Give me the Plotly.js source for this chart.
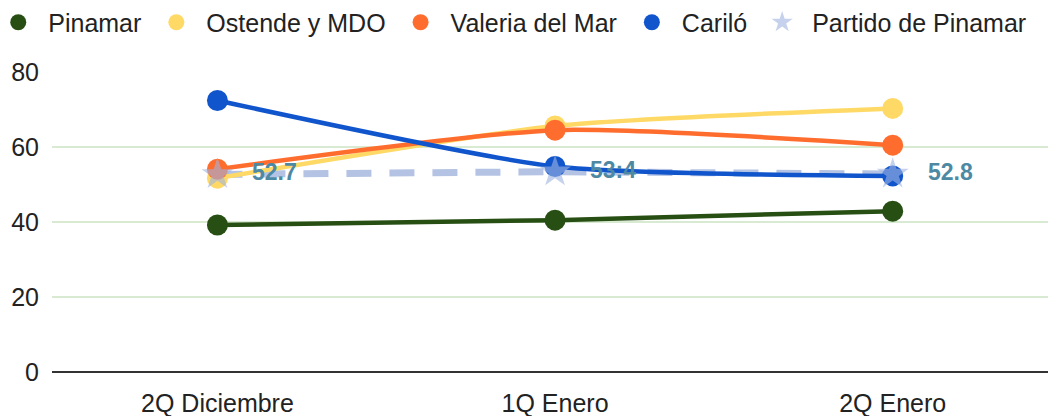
<!DOCTYPE html>
<html><head><meta charset="utf-8">
<script src="https://cdn.plot.ly/plotly-3.0.1.min.js"></script>
<style>body{margin:0;background:#fff}#c{width:1050px;height:416px}</style>
</head><body><div id="c"></div>
<script>
const categories = ["2Q Diciembre", "1Q Enero", "2Q Enero"];
const pinamar = [39.2, 40.5, 42.9];
const ostende = [51.7, 65.6, 70.3];
const valeria = [54.1, 64.5, 60.5];
const carilo = [72.4, 54.8, 52.3];
const partido = [52.7, 53.4, 52.8];
const partidoLabels = ["52.7", "53:4", "52.8"];
const seriesNames = ["Pinamar", "Ostende y MDO", "Valeria del Mar", "Cariló", "Partido de Pinamar"];
const colors = ["#274e13", "#ffd966", "#ff6d2e", "#1155cc", "#b4c3e3"];
const values = [pinamar, ostende, valeria, carilo];

const font = "Liberation Sans, Arial, sans-serif";
const traces = [];
traces.push({x: categories, y: partido, mode: "lines", line: {color: colors[4], width: 7, dash: "25px,18px"}, showlegend: false, hoverinfo: "skip"});
values.forEach((v, i) => {
  traces.push({x: categories, y: v, mode: "lines", line: {color: colors[i], width: 4.5, shape: "spline", smoothing: 0.6}, showlegend: false, hoverinfo: "skip"});
});
values.forEach((v, i) => {
  traces.push({x: categories, y: v, mode: "markers", marker: {size: 21, color: colors[i]}, name: seriesNames[i]});
});
traces.push({x: categories, y: partido, mode: "markers", name: seriesNames[4],
  marker: {symbol: "star", size: 24, color: "rgba(160,180,225,0.6)"}});

const annotations = categories.map((c, i) => ({
  x: c, y: partido[i], xref: "x", yref: "y", text: partidoLabels[i], showarrow: false,
  xanchor: "left", yanchor: "middle", xshift: 33, yshift: 2,
  font: {family: font, size: 23, color: "#4d89a3", weight: "bold"}
}));

const layout = {
  width: 1050, height: 416,
  margin: {l: 52, r: 2, t: 72, b: 44, autoexpand: false},
  paper_bgcolor: "#fff", plot_bgcolor: "#fff",
  font: {family: font, size: 25, color: "#222"},
  showlegend: true,
  annotations: annotations,
  legend: {orientation: "h", x: -0.064, xanchor: "left", y: 1.165, yanchor: "middle", font: {family: font, size: 25, color: "#222"}, itemsizing: "trace", traceorder: "normal", itemwidth: 50, itemgap: 12},
  xaxis: {type: "category", range: [-0.49, 2.46], showgrid: false, zeroline: false, showline: false, ticks: "", ticklabelstandoff: 14, tickfont: {family: font, size: 25, color: "#222"}},
  yaxis: {range: [0, 80], tickvals: [0, 20, 40, 60, 80], gridcolor: "#d9ead3", gridwidth: 1.5, zeroline: true, zerolinecolor: "#333", zerolinewidth: 2.2, showline: false, tickfont: {family: font, size: 25, color: "#222"}, ticklabelstandoff: 12, fixedrange: true},
};
Plotly.newPlot("c", traces, layout, {displayModeBar: false, staticPlot: true});
</script></body></html>
